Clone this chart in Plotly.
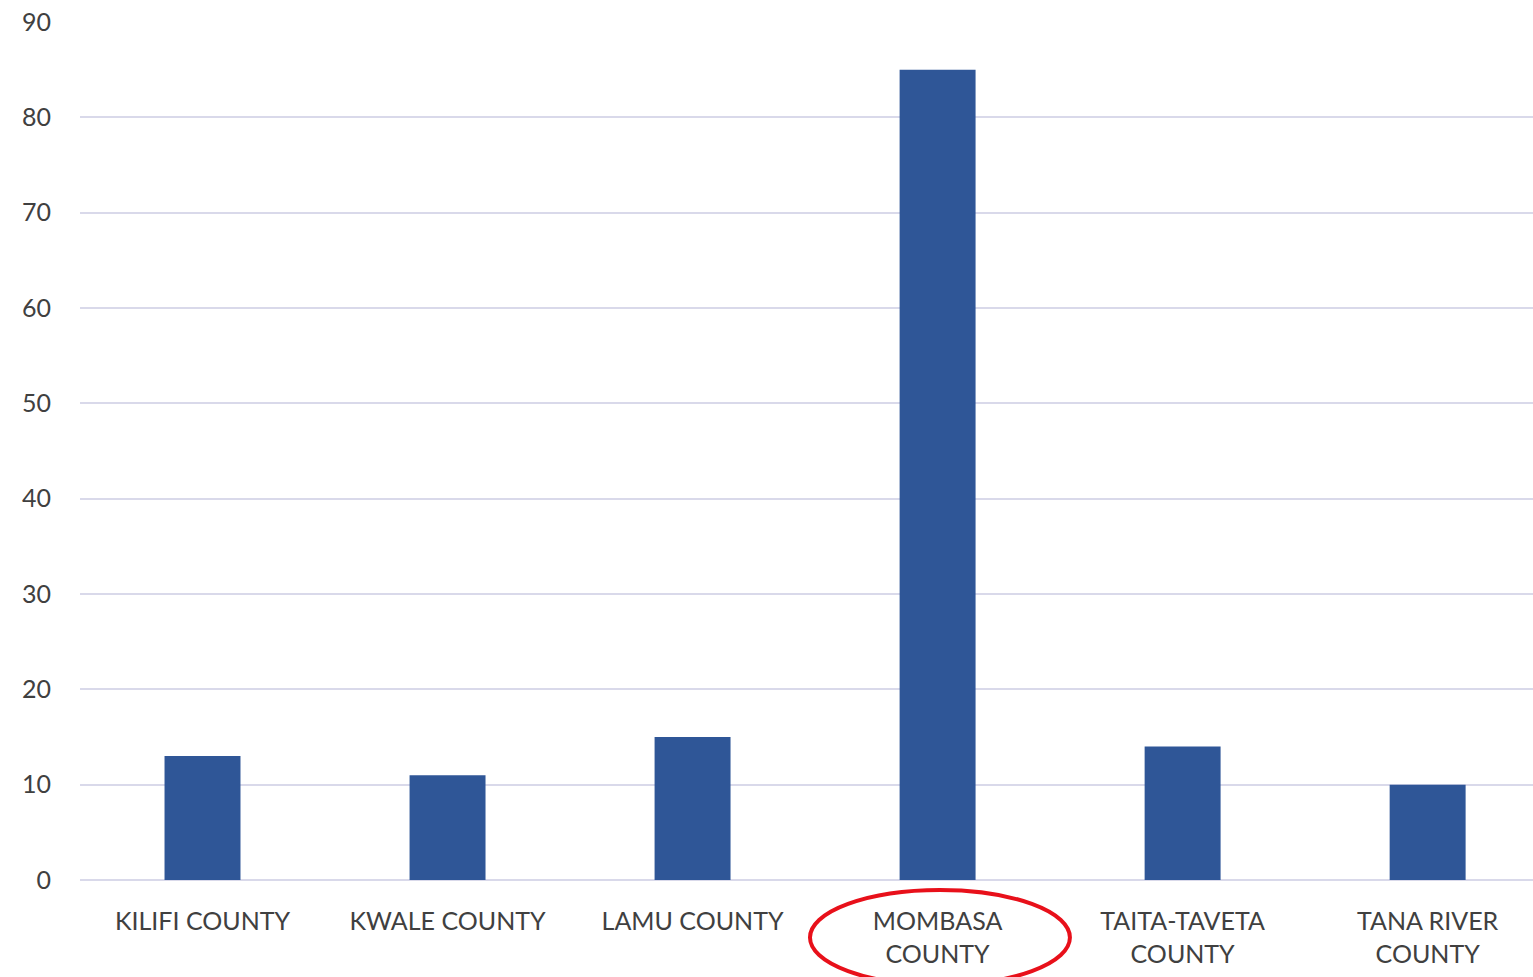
import plotly.graph_objects as go

counties = ["KILIFI COUNTY", "KWALE COUNTY", "LAMU COUNTY",
            "MOMBASA<br>COUNTY", "TAITA-TAVETA<br>COUNTY", "TANA RIVER<br>COUNTY"]
counts = [13, 11, 15, 85, 14, 10]
y_ticks = [0, 10, 20, 30, 40, 50, 60, 70, 80, 90]

BAR_BLUE = "#2f5697"
GRID = "#d9d9ea"
TEXT = "#404040"
FONT = "Lato, Carlito, 'Open Sans', sans-serif"

fig = go.Figure(
    go.Bar(
        x=list(range(len(counties))),
        y=counts,
        marker=dict(color=BAR_BLUE, line=dict(width=0)),
        width=0.31,
        hoverinfo="skip",
    )
)

# Highlight ring around the Mombasa category label (paper coords so it is not clipped)
fig.add_shape(
    type="circle",
    xref="paper", yref="paper",
    x0=0.5024, x1=0.6813, y0=-0.0117, y1=-0.1224,
    line=dict(color="#e8101a", width=4),
    layer="above",
)

fig.update_layout(
    width=1533,
    height=977,
    margin=dict(l=80, r=0, t=22, b=97),
    paper_bgcolor="white",
    plot_bgcolor="white",
    showlegend=False,
    font=dict(family=FONT, color=TEXT, size=25),
    bargap=0.69,
)

fig.update_xaxes(
    tickmode="array",
    tickvals=list(range(len(counties))),
    ticktext=counties,
    range=[-0.5, 5.43],
    showgrid=False,
    showline=False,
    zeroline=False,
    ticks="",
    ticklabelstandoff=24,
    tickfont=dict(size=25, color=TEXT),
)

fig.update_yaxes(
    range=[0, 90],
    tickmode="array",
    tickvals=y_ticks,
    showgrid=True,
    gridcolor=GRID,
    gridwidth=2,
    zeroline=True,
    zerolinecolor=GRID,
    zerolinewidth=2,
    showline=False,
    ticks="",
    ticklabelstandoff=28,
    tickfont=dict(size=25, color=TEXT),
)

fig.write_html("out.html")
